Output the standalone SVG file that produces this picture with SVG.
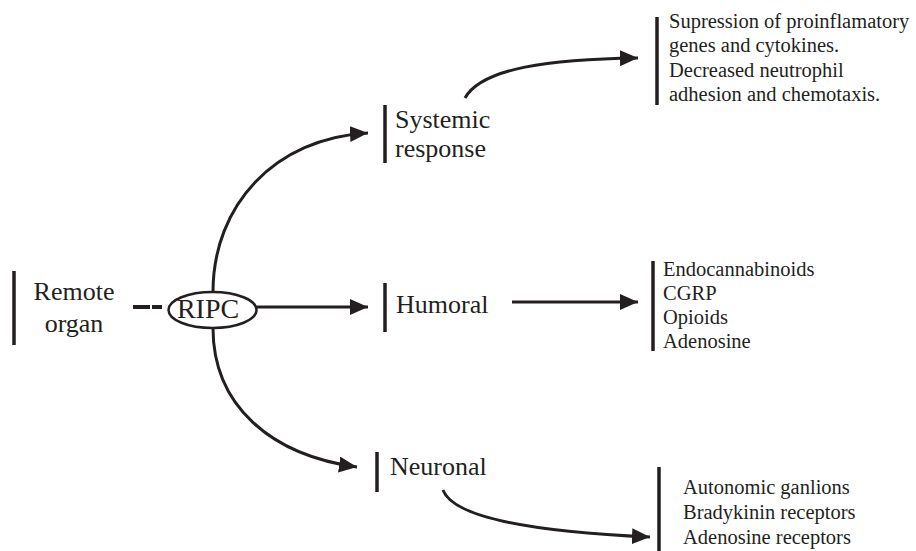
<svg xmlns="http://www.w3.org/2000/svg" width="916" height="551" viewBox="0 0 916 551">
<style>
.t{font-family:"Liberation Serif","Times New Roman",serif;fill:#231f20}
.big{font-size:26px}
.sm{font-size:20.5px}
.bar{stroke:#231f20;stroke-width:3.5}
.c{fill:none;stroke:#231f20;stroke-width:3}
</style>
<defs>
<marker id="ah" markerUnits="userSpaceOnUse" viewBox="0 0 18 16" refX="18" refY="8" markerWidth="18" markerHeight="16" orient="auto">
<path d="M0,0 L18,8 L0,16 z" fill="#231f20"/>
</marker>
</defs>
<rect width="916" height="551" fill="#fff"/>
<g id="remote-organ">
<line class="bar" x1="14" y1="271" x2="14" y2="345"/>
<text class="t big" x="74" y="300" text-anchor="middle">Remote</text>
<text class="t big" x="74" y="332" text-anchor="middle">organ</text>
</g>
<g id="ripc">
<ellipse cx="212.5" cy="310" rx="44" ry="18" fill="none" stroke="#231f20" stroke-width="2.5"/>
<text class="t" x="208" y="318" font-size="28" text-anchor="middle">RIPC</text>
</g>
<g id="systemic-response">
<line class="bar" x1="385" y1="105" x2="385" y2="163"/>
<text class="t big" x="395" y="128">Systemic</text>
<text class="t big" x="395" y="157">response</text>
</g>
<g id="humoral">
<line class="bar" x1="385" y1="283" x2="385" y2="332"/>
<text class="t big" x="396" y="313">Humoral</text>
</g>
<g id="neuronal">
<line class="bar" x1="377" y1="452" x2="377" y2="492"/>
<text class="t big" x="390" y="475">Neuronal</text>
</g>
<g id="systemic-effects">
<line class="bar" x1="657" y1="17" x2="657" y2="105"/>
<text class="t sm" x="669" y="28">Supression of proinflamatory</text>
<text class="t sm" x="669" y="52">genes and cytokines.</text>
<text class="t sm" x="669" y="77">Decreased neutrophil</text>
<text class="t sm" x="669" y="101">adhesion and chemotaxis.</text>
</g>
<g id="humoral-mediators">
<line class="bar" x1="653" y1="261" x2="653" y2="351"/>
<text class="t sm" x="663" y="276">Endocannabinoids</text>
<text class="t sm" x="663" y="300">CGRP</text>
<text class="t sm" x="663" y="324">Opioids</text>
<text class="t sm" x="663" y="348">Adenosine</text>
</g>
<g id="neuronal-mediators">
<line class="bar" x1="659" y1="467" x2="659" y2="551"/>
<text class="t sm" x="683" y="494">Autonomic ganlions</text>
<text class="t sm" x="683" y="519">Bradykinin receptors</text>
<text class="t sm" x="683" y="544">Adenosine receptors</text>
</g>
<g id="connectors">
<line x1="133" y1="307" x2="150" y2="307" stroke="#231f20" stroke-width="4"/>
<line x1="152" y1="307" x2="162" y2="307" stroke="#231f20" stroke-width="4"/>
<line class="c" x1="257" y1="307" x2="368" y2="307" marker-end="url(#ah)"/>
<path class="c" d="M213,292 C213,205 275,138 368,133" marker-end="url(#ah)"/>
<path class="c" d="M213,328 C213,405 270,455 357,467" marker-end="url(#ah)"/>
<line class="c" x1="512" y1="302" x2="638" y2="302" marker-end="url(#ah)"/>
<path class="c" d="M465,98 C482,68 550,59 638,58" marker-end="url(#ah)"/>
<path class="c" d="M443,490 C455,522 560,533 650,537" marker-end="url(#ah)"/>
</g>
</svg>
